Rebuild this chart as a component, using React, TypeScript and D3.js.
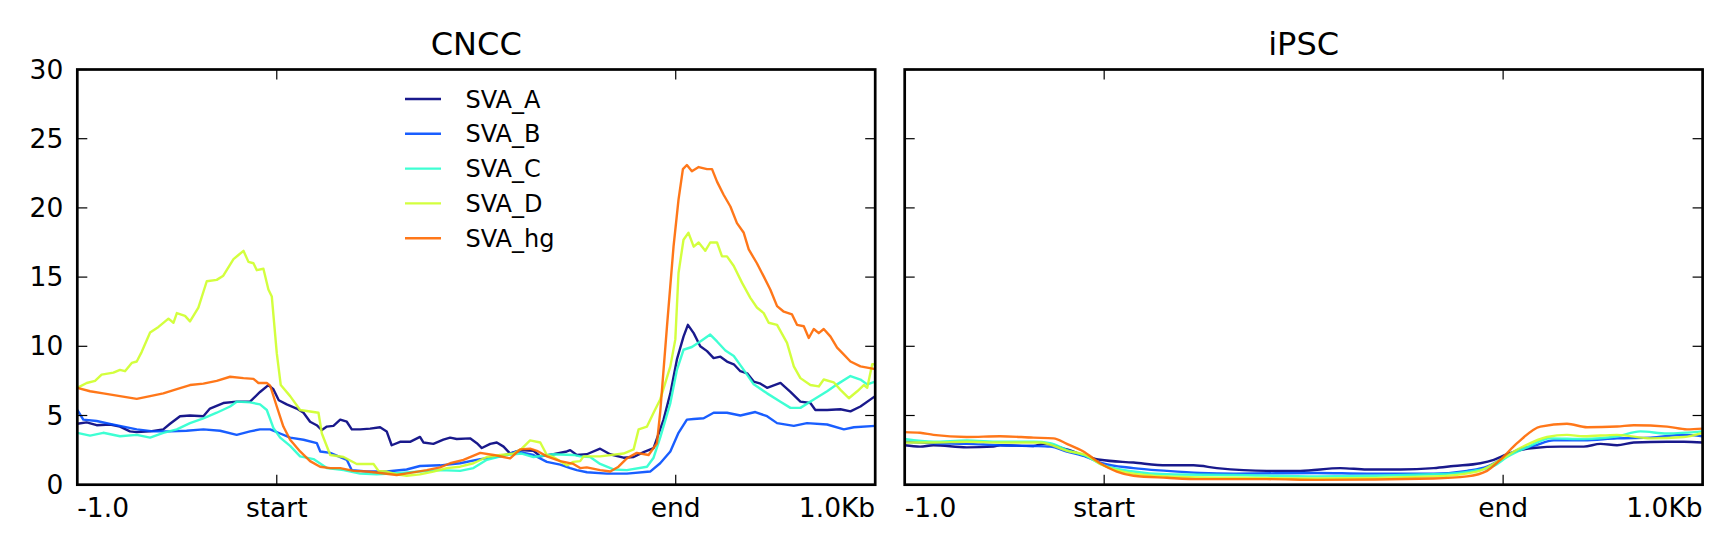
import { useEffect, useRef } from 'react';
import * as d3 from 'd3';

type Pt = [number, number];

const seriesNames = ['SVA_A', 'SVA_B', 'SVA_C', 'SVA_D', 'SVA_hg'];
// jet colormap sampled at 0, .2, .4, .6, .8
const seriesColors = ['#00007f', '#004dff', '#29ffce', '#ceff29', '#ff6800'];
const panelTitles = ['CNCC', 'iPSC'];
const xTickValues = [0, 1000, 3000, 4000];
const xTickLabels = ['-1.0', 'start', 'end', '1.0Kb'];
const yTickValues = [0, 5, 10, 15, 20, 25, 30];

// CNCC profiles (position in bins of bp from -1kb, value)
const cnccA: Pt[] = [
  [0, 4.4], [47, 4.5], [97, 4.3], [164, 4.35], [214, 4.2], [264, 3.85], [298, 3.8], [365, 3.85],
  [431, 4.0], [465, 4.4], [515, 4.95], [565, 5.0], [632, 4.95], [665, 5.5], [732, 5.9], [799, 6.0],
  [866, 6.0], [916, 6.7], [958, 7.2], [983, 6.9], [1010, 6.1], [1050, 5.8], [1100, 5.5], [1134, 5.2],
  [1167, 4.55], [1200, 4.3], [1226, 3.95], [1251, 4.2], [1284, 4.25], [1318, 4.7], [1351, 4.55],
  [1376, 4.0], [1418, 4.0], [1468, 4.05], [1518, 4.15], [1551, 3.85], [1576, 2.85], [1618, 3.1],
  [1668, 3.1], [1718, 3.45], [1735, 3.05], [1785, 2.95], [1835, 3.25], [1869, 3.4], [1902, 3.3],
  [1969, 3.35], [2003, 3.0], [2028, 2.65], [2070, 2.95], [2103, 3.05], [2137, 2.75], [2170, 2.25],
  [2220, 2.5], [2287, 2.45], [2321, 2.05], [2387, 2.2], [2454, 2.4], [2471, 2.5], [2504, 2.15],
  [2554, 2.2], [2621, 2.6], [2671, 2.2], [2738, 1.95], [2789, 2.0], [2839, 2.35], [2889, 2.65],
  [2939, 4.7], [2973, 6.6], [3006, 9.05], [3039, 10.7], [3061, 11.55], [3090, 10.95], [3123, 10.0],
  [3157, 9.65], [3190, 9.15], [3224, 9.25], [3257, 8.9], [3291, 8.7], [3324, 8.2], [3358, 8.05],
  [3391, 7.45], [3425, 7.3], [3458, 7.0], [3525, 7.35], [3575, 6.7], [3625, 6.0], [3675, 5.9],
  [3700, 5.4], [3759, 5.4], [3826, 5.45], [3876, 5.3], [3926, 5.65], [4000, 6.4],
];
const cnccB: Pt[] = [
  [0, 5.4], [30, 4.7], [97, 4.6], [164, 4.4], [231, 4.2], [298, 4.0], [381, 3.85], [465, 3.85],
  [548, 3.9], [632, 4.0], [716, 3.9], [799, 3.6], [866, 3.85], [916, 4.0], [967, 4.0], [1017, 3.7],
  [1067, 3.4], [1134, 3.25], [1201, 3.0], [1218, 2.4], [1268, 2.3], [1351, 1.8], [1376, 1.05],
  [1451, 0.95], [1551, 0.95], [1651, 1.1], [1718, 1.35], [1819, 1.4], [1919, 1.55], [2020, 1.85],
  [2120, 2.05], [2203, 2.4], [2287, 2.15], [2354, 1.65], [2421, 1.45], [2471, 1.2], [2504, 1.05],
  [2555, 0.9], [2655, 0.8], [2755, 0.8], [2872, 0.95], [2922, 1.55], [2973, 2.4], [3014, 3.75],
  [3056, 4.7], [3090, 4.75], [3140, 4.8], [3190, 5.2], [3257, 5.2], [3324, 5.0], [3399, 5.25],
  [3458, 4.95], [3508, 4.45], [3592, 4.25], [3658, 4.45], [3759, 4.35], [3843, 4.0], [3893, 4.15],
  [4000, 4.25],
];
const cnccC: Pt[] = [
  [0, 3.75], [64, 3.55], [130, 3.75], [214, 3.5], [298, 3.6], [365, 3.4], [431, 3.75], [499, 4.0],
  [565, 4.45], [632, 4.8], [699, 5.2], [766, 5.65], [799, 6.0], [866, 5.95], [916, 5.8], [950, 5.4],
  [983, 4.1], [1017, 3.4], [1067, 2.8], [1117, 2.05], [1184, 1.85], [1251, 1.2], [1335, 1.05],
  [1418, 0.8], [1501, 0.75], [1618, 0.85], [1718, 0.95], [1819, 1.05], [1919, 1.0], [1986, 1.2],
  [2053, 1.8], [2153, 2.15], [2228, 2.25], [2287, 2.0], [2387, 2.2], [2487, 2.15], [2521, 2.05],
  [2571, 2.0], [2621, 1.5], [2688, 1.1], [2755, 1.05], [2856, 1.3], [2889, 1.95], [2922, 3.4],
  [2973, 5.9], [3006, 8.3], [3039, 9.75], [3081, 9.95], [3123, 10.35], [3173, 10.85], [3207, 10.35],
  [3249, 9.7], [3291, 9.3], [3341, 8.3], [3391, 7.25], [3458, 6.6], [3525, 6.0], [3575, 5.55],
  [3625, 5.55], [3692, 6.15], [3759, 6.75], [3809, 7.25], [3876, 7.85], [3926, 7.6], [3960, 7.25],
  [4000, 7.45],
];
const cnccD: Pt[] = [
  [0, 7.0], [47, 7.35], [89, 7.5], [122, 7.95], [181, 8.1], [214, 8.3], [239, 8.2], [273, 8.8],
  [298, 8.9], [323, 9.6], [365, 11.0], [407, 11.4], [457, 12.0], [482, 11.7], [499, 12.4],
  [540, 12.2], [565, 11.8], [607, 12.8], [649, 14.7], [699, 14.8], [732, 15.1], [783, 16.3],
  [808, 16.6], [833, 16.9], [858, 16.1], [883, 16.0], [900, 15.5], [933, 15.6], [958, 14.1],
  [975, 13.6], [1000, 9.5], [1020, 7.2], [1067, 6.4], [1117, 5.4], [1209, 5.2], [1226, 3.7],
  [1268, 2.15], [1335, 2.0], [1401, 1.5], [1485, 1.5], [1510, 1.0], [1551, 0.95], [1601, 0.75],
  [1651, 0.65], [1718, 0.75], [1785, 0.95], [1852, 1.2], [1919, 1.3], [1986, 1.55], [2053, 2.0],
  [2120, 2.15], [2187, 2.25], [2228, 2.6], [2270, 3.2], [2321, 3.05], [2354, 2.15], [2387, 2.0],
  [2454, 1.4], [2487, 1.65], [2521, 1.7], [2538, 2.05], [2621, 2.05], [2738, 2.25], [2789, 2.55],
  [2814, 4.0], [2856, 4.2], [2889, 5.2], [2922, 6.15], [2973, 8.55], [2998, 10.5], [3014, 15.3],
  [3039, 17.7], [3064, 18.2], [3090, 17.2], [3115, 17.5], [3148, 16.9], [3173, 17.5], [3207, 17.5],
  [3232, 16.5], [3257, 16.5], [3291, 15.8], [3332, 14.6], [3374, 13.5], [3407, 12.8], [3441, 12.4],
  [3466, 11.7], [3508, 11.55], [3558, 10.25], [3592, 8.55], [3625, 7.7], [3675, 7.2], [3717, 7.1],
  [3742, 7.6], [3792, 7.4], [3826, 6.85], [3868, 6.25], [3910, 6.75], [3943, 7.2], [3960, 7.0],
  [3985, 8.7], [4000, 8.7],
];
const cnccHg: Pt[] = [
  [0, 7.0], [64, 6.75], [130, 6.6], [214, 6.4], [298, 6.2], [365, 6.4], [431, 6.6], [499, 6.9],
  [565, 7.2], [632, 7.3], [699, 7.5], [766, 7.8], [833, 7.7], [883, 7.65], [908, 7.35], [950, 7.35],
  [967, 7.15], [1000, 5.65], [1033, 4.2], [1067, 3.25], [1117, 2.4], [1167, 1.7], [1217, 1.3],
  [1268, 1.2], [1318, 1.2], [1385, 1.0], [1451, 0.95], [1518, 0.85], [1601, 0.7], [1668, 0.85],
  [1752, 1.05], [1819, 1.25], [1869, 1.55], [1936, 1.8], [2020, 2.3], [2087, 2.15], [2137, 2.0],
  [2170, 1.9], [2220, 2.55], [2270, 2.6], [2304, 2.45], [2354, 2.05], [2421, 1.7], [2487, 1.5],
  [2521, 1.2], [2554, 1.25], [2621, 1.05], [2672, 0.95], [2713, 1.3], [2755, 1.9], [2805, 2.3],
  [2864, 2.15], [2906, 3.0], [2922, 5.2], [2956, 11.4], [2989, 17.2], [3014, 20.6], [3036, 22.8],
  [3056, 23.1], [3081, 22.65], [3115, 22.95], [3157, 22.8], [3182, 22.8], [3207, 21.9],
  [3240, 20.95], [3274, 20.1], [3307, 18.9], [3341, 18.2], [3366, 17.0], [3407, 16.0], [3441, 15.05],
  [3474, 14.1], [3508, 12.9], [3542, 12.5], [3583, 12.3], [3608, 11.55], [3642, 11.45], [3667, 10.6],
  [3692, 11.25], [3717, 10.95], [3742, 11.25], [3776, 10.7], [3809, 9.9], [3843, 9.4], [3876, 8.9],
  [3926, 8.55], [4000, 8.35],
];

// iPSC profiles
const ipscA: Pt[] = [
  [0, 2.85], [77, 2.75], [144, 2.85], [311, 2.7], [445, 2.75], [478, 2.85], [645, 2.8], [696, 2.95],
  [813, 2.55], [913, 2.05], [980, 1.8], [1147, 1.6], [1314, 1.4], [1448, 1.4], [1565, 1.2],
  [1816, 1.0], [1983, 1.0], [2184, 1.2], [2317, 1.1], [2485, 1.1], [2652, 1.2], [2752, 1.35],
  [2886, 1.55], [2953, 1.8], [3020, 2.2], [3086, 2.5], [3153, 2.65], [3287, 2.75], [3404, 2.75],
  [3488, 2.95], [3571, 2.85], [3655, 3.05], [3822, 3.1], [3906, 3.1], [4000, 3.05],
];
const ipscB: Pt[] = [
  [0, 3.1], [144, 3.0], [311, 2.95], [478, 2.85], [645, 2.8], [729, 2.75], [813, 2.4], [913, 2.0],
  [980, 1.6], [1147, 1.2], [1314, 1.0], [1481, 0.85], [1649, 0.8], [2067, 0.85], [2317, 0.8],
  [2652, 0.8], [2819, 1.0], [2919, 1.3], [2986, 1.8], [3070, 2.5], [3153, 2.8], [3254, 3.2],
  [3404, 3.2], [3571, 3.35], [3739, 3.4], [3906, 3.6], [4000, 3.5],
];
const ipscC: Pt[] = [
  [0, 3.3], [144, 3.1], [311, 3.2], [478, 3.1], [645, 3.1], [729, 3.0], [813, 2.5], [913, 2.05],
  [980, 1.5], [1147, 0.95], [1314, 0.75], [1649, 0.7], [2067, 0.6], [2652, 0.75], [2852, 1.0],
  [2953, 1.35], [3020, 2.0], [3120, 2.7], [3237, 3.35], [3404, 3.3], [3571, 3.5], [3688, 3.85],
  [3822, 3.7], [4000, 3.85],
];
const ipscD: Pt[] = [
  [0, 3.05], [144, 3.05], [311, 3.1], [478, 3.05], [679, 3.05], [813, 2.45], [913, 2.1], [980, 1.5],
  [1147, 0.8], [1314, 0.6], [1649, 0.5], [2067, 0.45], [2652, 0.6], [2869, 0.95], [2986, 1.8],
  [3086, 2.65], [3220, 3.45], [3320, 3.6], [3404, 3.5], [3571, 3.6], [3739, 3.35], [3906, 3.45],
  [4000, 3.75],
];
const ipscHg: Pt[] = [
  [0, 3.8], [77, 3.75], [144, 3.6], [311, 3.45], [478, 3.5], [645, 3.4], [746, 3.35], [813, 2.95],
  [896, 2.4], [980, 1.55], [1063, 0.95], [1147, 0.65], [1314, 0.5], [1481, 0.4], [1816, 0.4],
  [2067, 0.35], [2652, 0.45], [2819, 0.6], [2919, 1.0], [2986, 1.8], [3070, 3.0], [3187, 4.2],
  [3320, 4.4], [3421, 4.15], [3571, 4.2], [3655, 4.3], [3822, 4.2], [3922, 4.0], [4000, 4.05],
];

const panelSeries: Pt[][][] = [
  [cnccA, cnccB, cnccC, cnccD, cnccHg],
  [ipscA, ipscB, ipscC, ipscD, ipscHg],
];

export default function App() {
  const svgRef = useRef<SVGSVGElement>(null);

  useEffect(() => {
    if (!svgRef.current) return;
    const width = 1732;
    const height = 551;
    const top = 69.5;
    const bottom = 484.7;
    const panelLeft = [77.3, 904.7];
    const panelWidth = 797.9;
    const font = "'DejaVu Sans', sans-serif";

    const svg = d3.select(svgRef.current);
    svg.selectAll('*').remove();
    svg.attr('width', width).attr('height', height);
    svg.append('rect').attr('width', width).attr('height', height).attr('fill', '#fff');

    const y = d3.scaleLinear().domain([0, 30]).range([bottom, top]);

    panelTitles.forEach((title, p) => {
      const x = d3
        .scaleLinear()
        .domain([0, 4000])
        .range([panelLeft[p], panelLeft[p] + panelWidth]);
      const g = svg.append('g');

      const line = d3
        .line<Pt>()
        .x((d) => x(d[0]))
        .y((d) => y(d[1]))
        .curve(p === 0 ? d3.curveLinear : d3.curveMonotoneX);

      panelSeries[p].forEach((data, i) => {
        g.append('path')
          .attr('d', line(data))
          .attr('fill', 'none')
          .attr('stroke', seriesColors[i])
          .attr('stroke-opacity', 0.9)
          .attr('stroke-width', 2.4)
          .attr('stroke-linejoin', 'round');
      });

      // ticks (inside, on all sides)
      yTickValues.forEach((v) => {
        g.append('line')
          .attr('x1', x(0)).attr('x2', x(0) + 10)
          .attr('y1', y(v)).attr('y2', y(v))
          .attr('stroke', '#000').attr('stroke-width', 1.2);
        g.append('line')
          .attr('x1', x(4000)).attr('x2', x(4000) - 10)
          .attr('y1', y(v)).attr('y2', y(v))
          .attr('stroke', '#000').attr('stroke-width', 1.2);
        if (p === 0) {
          g.append('text')
            .attr('x', x(0) - 14)
            .attr('y', y(v) + 9)
            .attr('text-anchor', 'end')
            .style('font-family', font)
            .style('font-size', '26.5px')
            .text(String(v));
        }
      });

      xTickValues.forEach((v, i) => {
        g.append('line')
          .attr('x1', x(v)).attr('x2', x(v))
          .attr('y1', bottom).attr('y2', bottom - 10)
          .attr('stroke', '#000').attr('stroke-width', 1.2);
        g.append('line')
          .attr('x1', x(v)).attr('x2', x(v))
          .attr('y1', top).attr('y2', top + 10)
          .attr('stroke', '#000').attr('stroke-width', 1.2);
        const anchor = i === 0 ? 'start' : i === xTickValues.length - 1 ? 'end' : 'middle';
        g.append('text')
          .attr('x', x(v))
          .attr('y', 517)
          .attr('text-anchor', anchor)
          .style('font-family', font)
          .style('font-size', '26.5px')
          .text(xTickLabels[i]);
      });

      // frame
      g.append('rect')
        .attr('x', x(0))
        .attr('y', top)
        .attr('width', panelWidth)
        .attr('height', bottom - top)
        .attr('fill', 'none')
        .attr('stroke', '#000')
        .attr('stroke-width', 2.7);

      g.append('text')
        .attr('x', x(2000))
        .attr('y', 55)
        .attr('text-anchor', 'middle')
        .style('font-family', font)
        .style('font-size', '32px')
        .text(title);
    });

    // legend
    const legend = svg.append('g');
    seriesNames.forEach((name, i) => {
      const ly = 99 + i * 34.8;
      legend.append('line')
        .attr('x1', 405).attr('x2', 441)
        .attr('y1', ly).attr('y2', ly)
        .attr('stroke', seriesColors[i])
        .attr('stroke-opacity', 0.9)
        .attr('stroke-width', 2.4);
      legend.append('text')
        .attr('x', 465.5)
        .attr('y', ly + 8.6)
        .style('font-family', font)
        .style('font-size', '24px')
        .text(name);
    });
  }, []);

  return (
    <svg
      ref={svgRef}
      style={{ position: 'absolute', left: 0, top: 0, display: 'block' }}
    />
  );
}
